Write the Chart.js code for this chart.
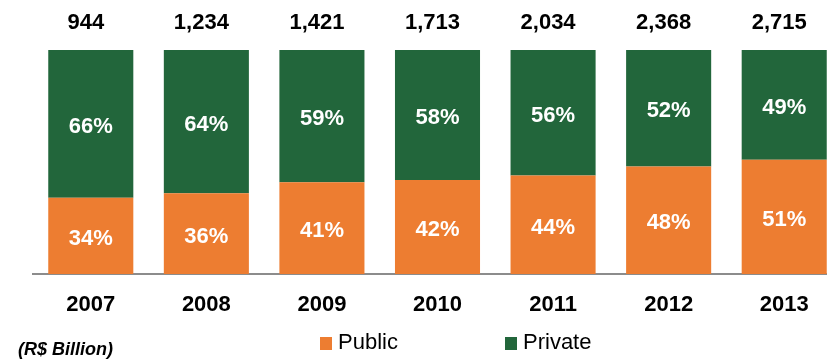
<!DOCTYPE html>
<html>
<head>
<meta charset="utf-8">
<script src="https://cdn.jsdelivr.net/npm/chart.js@4"></script>
<style>
  html, body { margin: 0; padding: 0; background: #ffffff; overflow: hidden; }
  #wrap { position: relative; width: 842px; height: 360px; }
</style>
</head>
<body>
<div id="wrap"><canvas id="chart"></canvas></div>
<script>
var years = ['2007', '2008', '2009', '2010', '2011', '2012', '2013'];
var totals = ['944', '1,234', '1,421', '1,713', '2,034', '2,368', '2,715'];
var publicShare = [34, 36, 41, 42, 44, 48, 51];
var privateShare = [66, 64, 59, 58, 56, 52, 49];
var unitNote = '(R$ Billion)';

var orange = '#ED7D31';
var green = '#22663B';
var fontFamily = '"Liberation Sans", Arial, sans-serif';

// white percentage inside each bar segment, totals above the stacks
var barTextPlugin = {
    id: 'barText',
    afterDatasetsDraw: function (chart) {
        var ctx = chart.ctx;
        ctx.save();
        ctx.textAlign = 'center';
        ctx.textBaseline = 'middle';
        ctx.font = 'bold 22px ' + fontFamily;
        ctx.fillStyle = '#ffffff';
        chart.data.datasets.forEach(function (ds, d) {
            var meta = chart.getDatasetMeta(d);
            meta.data.forEach(function (bar, i) {
                var mid = (bar.y + bar.base) / 2 + 3;
                ctx.fillText(ds.data[i] + '%', bar.x, mid);
            });
        });

        // totals sit a little left of the bar centre
        var topMeta = chart.getDatasetMeta(chart.data.datasets.length - 1);
        ctx.fillStyle = '#000000';
        topMeta.data.forEach(function (bar, i) {
            ctx.fillText(totals[i], bar.x - 5, bar.y - 27);
        });
        ctx.restore();
    }
};

// legend row and unit note along the bottom
var footerPlugin = {
    id: 'footer',
    afterDraw: function (chart) {
        var ctx = chart.ctx;
        ctx.save();
        ctx.textBaseline = 'middle';

        ctx.font = 'italic bold 18px ' + fontFamily;
        ctx.fillStyle = '#000000';
        ctx.textAlign = 'left';
        ctx.fillText(unitNote, 18, 350);

        var itemX = [320, 505];
        ctx.font = '22px ' + fontFamily;
        chart.data.datasets.forEach(function (ds, d) {
            ctx.fillStyle = ds.backgroundColor;
            ctx.fillRect(itemX[d], 337, 12, 13);
            ctx.fillStyle = '#000000';
            ctx.fillText(ds.label, itemX[d] + 18, 343);
        });
        ctx.restore();
    }
};

new Chart(document.getElementById('chart'), {
    type: 'bar',
    data: {
        labels: years,
        datasets: [
            { label: 'Public', data: publicShare, backgroundColor: orange },
            { label: 'Private', data: privateShare, backgroundColor: green }
        ]
    },
    options: {
        responsive: true,
        maintainAspectRatio: false,
        animation: false,
        devicePixelRatio: 1,
        layout: { padding: { top: 50, left: 33, right: 0, bottom: 0 } },
        datasets: {
            bar: { categoryPercentage: 1, barPercentage: 0.736, borderWidth: 0 }
        },
        plugins: {
            legend: { display: false },
            tooltip: { enabled: false }
        },
        scales: {
            x: {
                stacked: true,
                grid: { display: false, drawTicks: false },
                border: { display: true, color: '#8C8C8C', width: 2 },
                ticks: {
                    color: '#000000',
                    padding: 18,
                    font: { family: fontFamily, size: 22, weight: 'bold' }
                },
                afterFit: function (scale) { scale.height = 86; }
            },
            y: {
                stacked: true,
                display: false,
                min: 0,
                max: 100
            }
        }
    },
    plugins: [barTextPlugin, footerPlugin]
});
</script>
</body>
</html>
